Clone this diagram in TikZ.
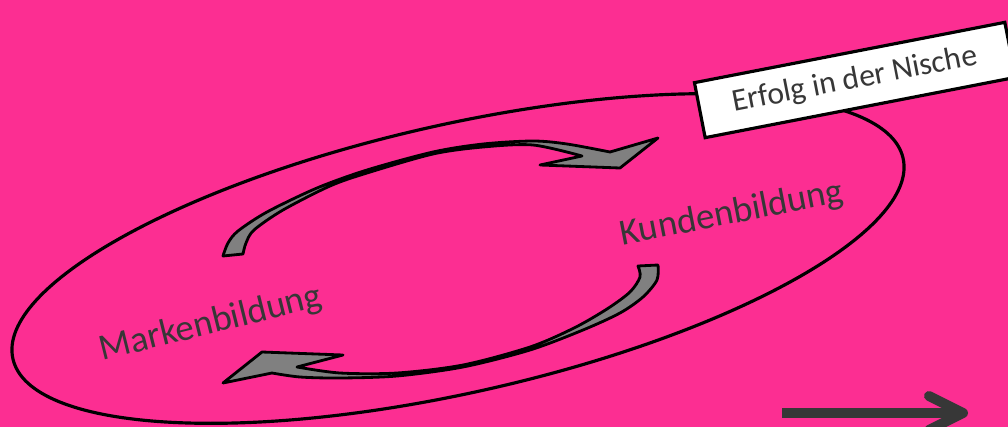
\documentclass[tikz,border=0pt]{standalone}
\usepackage{fontspec}
\setmainfont{Carlito}
\usetikzlibrary{arrows.meta}
\definecolor{nischepink}{RGB}{252,46,146}
\definecolor{pfeilgrau}{RGB}{128,128,128}
\definecolor{schrift}{RGB}{55,55,55}

\begin{document}
\begin{tikzpicture}[x=0.01cm, y=-0.01cm,
	kreislauf/.style={draw=black, line width=0.8pt, fill=pfeilgrau, line join=round},
	etikett/.style={text=schrift, font=\fontsize{10.5}{12}\selectfont},
	]
	\useasboundingbox (0,0) rectangle (1008,427);
	\fill[nischepink] (0,0) rectangle (1008,427);

	\draw[line width=0.9pt, rotate around={12.7:(458,258.5)}] (458,258.5) ellipse [x radius=4.56cm, y radius=1.34cm];

	% oberer Pfeil
	\filldraw[kreislauf] plot[smooth] coordinates {(223,256) (228,243) (238,231) (267,212) (317,188) (367,170) (433,152) (483,144) (533,141) (567,144) (610,152)}
		-- (658,138) -- (620,168) -- (540,165) -- (582,156)
		-- plot[smooth] coordinates {(582,156) (533,145) (483,147) (433,154) (367,173) (330,186) (283,210) (254,230) (246,243) (243,254)} -- cycle;
	% unterer Pfeil
	\filldraw[kreislauf] plot[smooth] coordinates {(658,265) (657,280) (643,297) (620,313) (583,330) (530,350) (463,367) (397,376) (340,378) (300,377) (272,373)}
		-- (223,383) -- (262,352) -- (343,355) -- (297,367)
		-- plot[smooth] coordinates {(297,367) (340,373) (397,373) (463,365) (530,347) (574,328) (607,309) (630,292) (640,277) (638,266)} -- cycle;

	\node[etikett, rotate=14] (markenbildung) at (211,324) {Markenbildung};
	\node[etikett, rotate=11] (kundenbildung) at (732,214) {Kundenbildung};
	\node[draw=black, line width=0.9pt, fill=white, rotate=11, minimum width=3.16cm, minimum height=0.56cm, inner sep=0pt, text=schrift, font=\fontsize{9}{10}\selectfont] (erfolg) at (855,80) {Erfolg in der Nische};

	\coordinate (zeitstart) at (782,413);
	\coordinate (zeitende) at (968,413);
	\draw[line width=0.1cm, draw=schrift, -{Straight Barb[length=3.4mm, width=3.4mm, round]}] (zeitstart) -- (zeitende);
\end{tikzpicture}
\end{document}
